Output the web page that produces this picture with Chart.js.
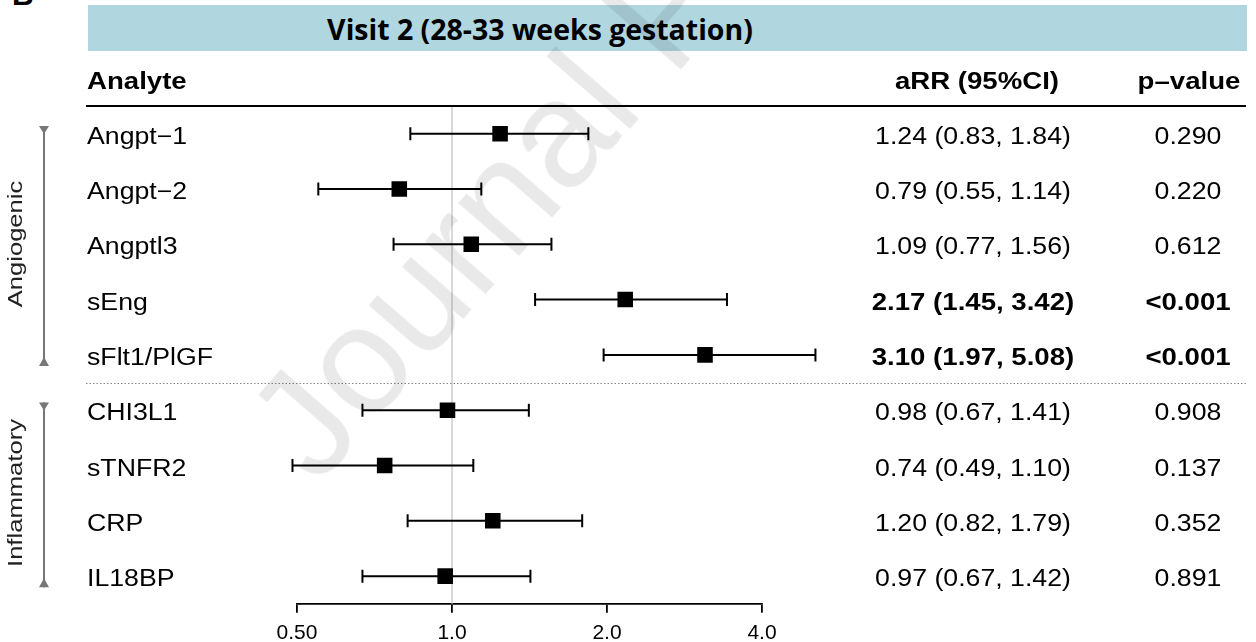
<!DOCTYPE html>
<html>
<head>
<meta charset="utf-8">
<title>Visit 2 forest plot</title>
<script src="https://cdn.jsdelivr.net/npm/chart.js@4.4.1/dist/chart.umd.min.js"></script>
<style>
  body { margin: 0; background: #fff; }
  #page { position: relative; width: 1256px; height: 642px; overflow: hidden;
          font-family: "Liberation Sans", Arial, Helvetica, sans-serif; color: #000; }
  #band { position: absolute; left: 88px; top: 5px; width: 1159px; height: 46px; background: #b0d6e0; }
  #title { position: absolute; left: 540px; top: 29px; font-family: "Open Sans", sans-serif;
           font-weight: 700; font-size: 29px; line-height: 1; white-space: nowrap;
           transform: translate(-50%, -53%); }
  #panel { position: absolute; left: 12px; top: -20px; font-weight: bold; font-size: 30px; line-height: 1; }
  canvas { position: absolute; left: 0; top: 0; }
  .txt { position: absolute; line-height: 1; white-space: nowrap; font-size: 23px; }
  .left { transform-origin: 0 50%; transform: translateY(-50%) scaleX(1.16); }
  .mid { transform: translate(-50%, -50%) scaleX(1.16); }
  .b { font-weight: bold; }
  .b.left { transform: translateY(-50%) scaleX(1.2); }
  .b.mid { transform: translate(-50%, -50%) scaleX(1.2); }
  .grp { position: absolute; line-height: 1; white-space: nowrap; font-size: 20px; color: #222;
         transform: translate(-50%, -50%) rotate(-90deg) scaleX(1.28); }
  #mark { position: absolute; left: 318px; top: 358px; font-size: 152px; line-height: 1;
          white-space: nowrap; color: rgba(0, 0, 0, 0.085); pointer-events: none;
          transform-origin: 0 129px; transform: rotate(-49deg); }
</style>
</head>
<body>
<div id="page">
  <div id="panel">B</div>
  <div id="band"></div>
  <div id="title">Visit 2 (28-33 weeks gestation)</div>
  <canvas id="forest" width="1256" height="654"></canvas>
  <div id="labels"></div>
  <div id="mark">Journal Pre-proof</div>
</div>
<script>
// rows of the table, top to bottom
const analytes = ['Angpt\u22121', 'Angpt\u22122', 'Angptl3', 'sEng', 'sFlt1/PlGF',
                  'CHI3L1', 'sTNFR2', 'CRP', 'IL18BP'];
const groups = ['Angiogenic', 'Inflammatory'];
const groupOf = [0, 0, 0, 0, 0, 1, 1, 1, 1];
const aRR = [1.24, 0.79, 1.09, 2.17, 3.10, 0.98, 0.74, 1.20, 0.97];
const ciLow = [0.83, 0.55, 0.77, 1.45, 1.97, 0.67, 0.49, 0.82, 0.67];
const ciHigh = [1.84, 1.14, 1.56, 3.42, 5.08, 1.41, 1.10, 1.79, 1.42];
const pValues = ['0.290', '0.220', '0.612', '<0.001', '<0.001', '0.908', '0.137', '0.352', '0.891'];
const xTicks = [0.5, 1, 2, 4];
const xTickLabels = ['0.50', '1.0', '2.0', '4.0'];

const FONT = '"Liberation Sans", Arial, Helvetica, sans-serif';

// error bars, reference line, rules and group brackets
const forestDecor = {
  id: 'forestDecor',
  beforeDatasetsDraw(chart) {
    const { ctx, chartArea, scales: { x, y } } = chart;
    ctx.save();

    // no-effect line at 1
    const x1 = x.getPixelForValue(1);
    ctx.strokeStyle = '#cccccc';
    ctx.lineWidth = 1.5;
    ctx.beginPath();
    ctx.moveTo(x1, chartArea.top);
    ctx.lineTo(x1, chartArea.bottom);
    ctx.stroke();

    // header rule
    ctx.strokeStyle = '#000';
    ctx.lineWidth = 2;
    ctx.beginPath();
    ctx.moveTo(86, chartArea.top);
    ctx.lineTo(1246, chartArea.top);
    ctx.stroke();

    // dotted line between the groups
    ctx.strokeStyle = '#888';
    ctx.lineWidth = 1;
    ctx.setLineDash([1.5, 2]);
    for (let i = 1; i < groupOf.length; i++) {
      if (groupOf[i] !== groupOf[i - 1]) {
        const ys = Math.round(y.getPixelForValue(i - 0.5)) + 0.5;
        ctx.beginPath();
        ctx.moveTo(86, ys);
        ctx.lineTo(1246, ys);
        ctx.stroke();
      }
    }
    ctx.setLineDash([]);

    // group brackets on the left
    ctx.strokeStyle = '#777';
    ctx.fillStyle = '#777';
    ctx.lineWidth = 2;
    const bx = 44;
    groups.forEach((g, gi) => {
      const rows = groupOf.map((v, i) => v === gi ? i : -1).filter(i => i >= 0);
      const top = y.getPixelForValue(rows[0] - 0.14);
      const bot = y.getPixelForValue(rows[rows.length - 1] + 0.2);
      ctx.beginPath();
      ctx.moveTo(bx, top);
      ctx.lineTo(bx, bot);
      ctx.stroke();
      ctx.beginPath();
      ctx.moveTo(bx - 5, top); ctx.lineTo(bx + 5, top); ctx.lineTo(bx, top + 8);
      ctx.closePath();
      ctx.fill();
      ctx.beginPath();
      ctx.moveTo(bx - 5, bot); ctx.lineTo(bx + 5, bot); ctx.lineTo(bx, bot - 9);
      ctx.closePath();
      ctx.fill();
    });

    // confidence intervals
    ctx.strokeStyle = '#000';
    ctx.lineWidth = 2;
    aRR.forEach((v, i) => {
      const yp = y.getPixelForValue(i);
      const xl = x.getPixelForValue(ciLow[i]);
      const xh = x.getPixelForValue(ciHigh[i]);
      ctx.beginPath();
      ctx.moveTo(xl, yp); ctx.lineTo(xh, yp);
      ctx.moveTo(xl, yp - 6.5); ctx.lineTo(xl, yp + 6.5);
      ctx.moveTo(xh, yp - 6.5); ctx.lineTo(xh, yp + 6.5);
      ctx.stroke();
    });

    ctx.restore();
  }
};

const chart = new Chart(document.getElementById('forest'), {
  type: 'scatter',
  data: {
    datasets: [{
      data: aRR.map((v, i) => ({ x: v, y: i })),
      pointStyle: 'rect',
      pointRadius: 11,
      pointHoverRadius: 11,
      pointBackgroundColor: '#000',
      pointBorderColor: '#000',
      pointBorderWidth: 0
    }]
  },
  options: {
    responsive: false,
    animation: false,
    devicePixelRatio: 1,
    layout: { padding: { left: 297, right: 494, top: 106, bottom: 0 } },
    plugins: { legend: { display: false }, tooltip: { enabled: false } },
    scales: {
      x: {
        type: 'logarithmic',
        min: 0.5,
        max: 4,
        afterBuildTicks: s => { s.ticks = xTicks.map(v => ({ value: v })); },
        ticks: {
          callback: (v, i) => xTickLabels[i],
          color: '#000',
          font: { family: FONT, size: 21 },
          padding: 8,
          maxRotation: 0,
          autoSkip: false
        },
        grid: { drawOnChartArea: false, drawTicks: true, tickLength: 9, color: '#000', lineWidth: 1.8 },
        border: { display: true, color: '#000', width: 1.8 }
      },
      y: { type: 'linear', min: -0.5, max: 8.5, reverse: true, display: false }
    }
  },
  plugins: [forestDecor]
});

// table text placed on the chart's own row positions
const box = document.getElementById('labels');
function addText(text, x, y, cls) {
  const d = document.createElement('div');
  d.className = 'txt ' + cls;
  d.textContent = text;
  d.style.left = x + 'px';
  d.style.top = y + 'px';
  box.appendChild(d);
  return d;
}

const yScale = chart.scales.y;
const headY = 81;
addText('Analyte', 87, headY, 'left b');
addText('aRR (95%CI)', 977, headY, 'mid b');
addText('p\u2013value', 1189, headY, 'mid b');

analytes.forEach((name, i) => {
  const yp = yScale.getPixelForValue(i) + 2;
  const strong = pValues[i].startsWith('<') ? ' b' : '';
  addText(name, 87, yp, 'left');
  addText(`${aRR[i].toFixed(2)} (${ciLow[i].toFixed(2)}, ${ciHigh[i].toFixed(2)})`, 973, yp, 'mid' + strong);
  addText(pValues[i], 1188, yp, 'mid' + strong);
});

groups.forEach((g, gi) => {
  const rows = groupOf.map((v, i) => v === gi ? i : -1).filter(i => i >= 0);
  const mid = yScale.getPixelForValue((rows[0] + rows[rows.length - 1]) / 2);
  const d = document.createElement('div');
  d.className = 'grp';
  d.textContent = g;
  d.style.left = '15px';
  d.style.top = mid + 'px';
  box.appendChild(d);
});

// squeeze the title to the width it has in the figure
const title = document.getElementById('title');
const fitTitle = () => {
  const s = 426 / title.offsetWidth;
  title.style.transform = `translate(-50%, -53%) scaleX(${s.toFixed(3)})`;
};
fitTitle();
if (document.fonts) document.fonts.ready.then(fitTitle);
</script>
</body>
</html>
